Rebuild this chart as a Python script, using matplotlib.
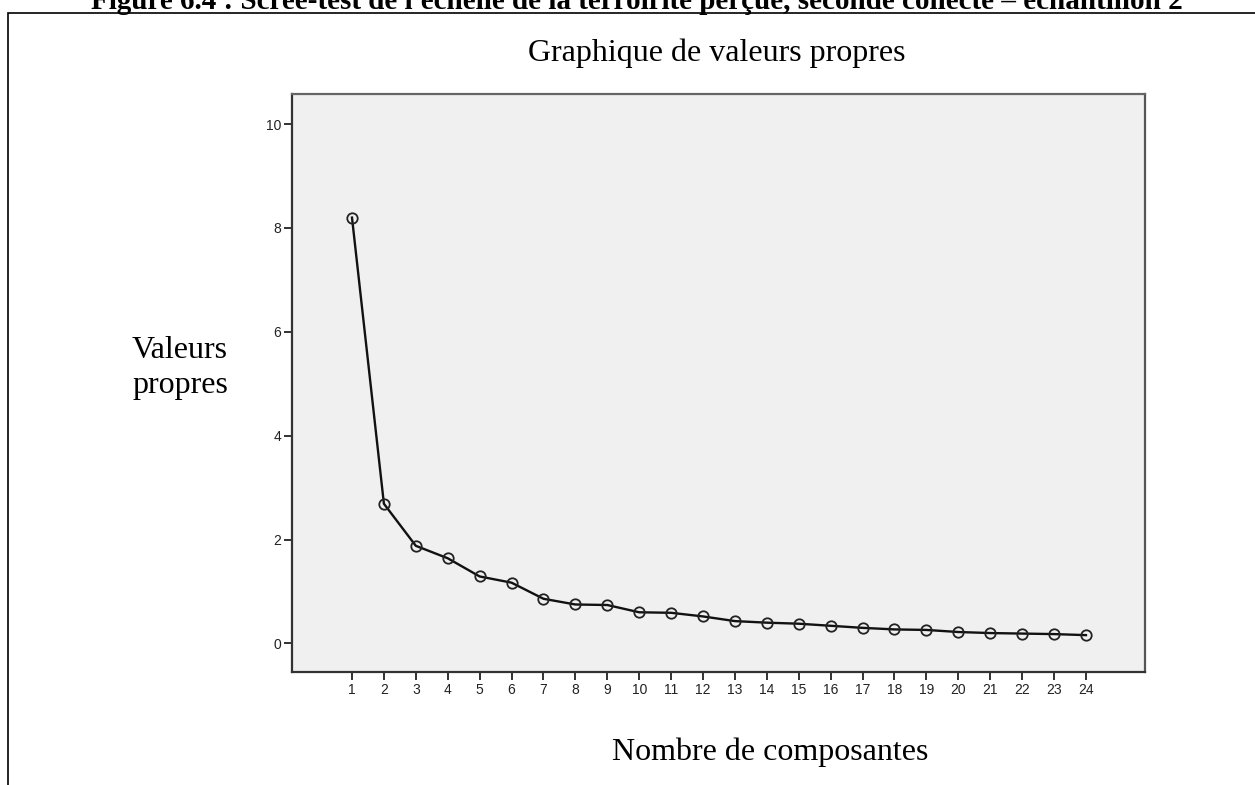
import matplotlib
matplotlib.use("Agg")
import matplotlib.pyplot as plt
from matplotlib.patches import Rectangle

# Scree plot data: eigenvalues per component
components = list(range(1, 25))
eigenvalues = [8.20, 2.69, 1.88, 1.64, 1.29, 1.17, 0.86, 0.75, 0.74, 0.60,
               0.59, 0.52, 0.43, 0.40, 0.38, 0.34, 0.30, 0.27, 0.26, 0.22,
               0.20, 0.19, 0.18, 0.16]
y_ticks = [0, 2, 4, 6, 8, 10]

W, H = 1255, 785
fig = plt.figure(figsize=(W / 100, H / 100), dpi=100)
fig.patch.set_facecolor("white")

# Outer frame of the figure block
fig.add_artist(Rectangle((8 / W, -0.1), 1.2, 1 - 13 / H + 0.1,
                         transform=fig.transFigure, fill=False,
                         edgecolor="black", linewidth=1.2, clip_on=False))

# Caption above the frame
fig.text(637 / W, 1 - 9 / H,
         "Figure 6.4 : Scree-test de l'échelle de la terroirité perçue, "
         "seconde collecte – échantillon 2",
         ha="center", va="baseline", fontsize=21, fontweight="bold",
         family="Liberation Serif")

left, right, top, bottom = 292, 1145, 94, 672
ax = fig.add_axes([left / W, 1 - bottom / H, (right - left) / W, (bottom - top) / H])
ax.set_facecolor("#f0f0f0")

ax.plot(components, eigenvalues, color="#111111", linewidth=1.7,
        marker="o", markersize=7.5, markerfacecolor="none",
        markeredgecolor="#222222", markeredgewidth=1.3)

ax.set_xlim(-0.88, 25.85)
ax.set_ylim(-0.55, 10.58)
ax.set_xticks(components)
ax.set_xticklabels([str(c) for c in components])
ax.set_yticks(y_ticks)
ax.set_yticklabels([str(v) for v in y_ticks])
ax.tick_params(axis="both", direction="out", length=6, width=1.3,
               colors="#222222", labelsize=10, pad=2)
for lab in ax.get_xticklabels() + ax.get_yticklabels():
    lab.set_family("Liberation Sans")

for side in ["left", "bottom", "top", "right"]:
    ax.spines[side].set_linewidth(1.6)
    ax.spines[side].set_color("#333333")
ax.spines["top"].set_color("#666666")
ax.spines["right"].set_color("#555555")

serif = "Liberation Serif"
fig.text(717 / W, 1 - 53 / H, "Graphique de valeurs propres",
         ha="center", va="center", fontsize=23, family=serif)
fig.text(180 / W, 1 - 368 / H, "Valeurs\npropres",
         ha="center", va="center", fontsize=23, family=serif, linespacing=1.25)
fig.text(770 / W, 1 - 752 / H, "Nombre de composantes",
         ha="center", va="center", fontsize=23, family=serif)

fig.savefig("out.png", dpi=100)
